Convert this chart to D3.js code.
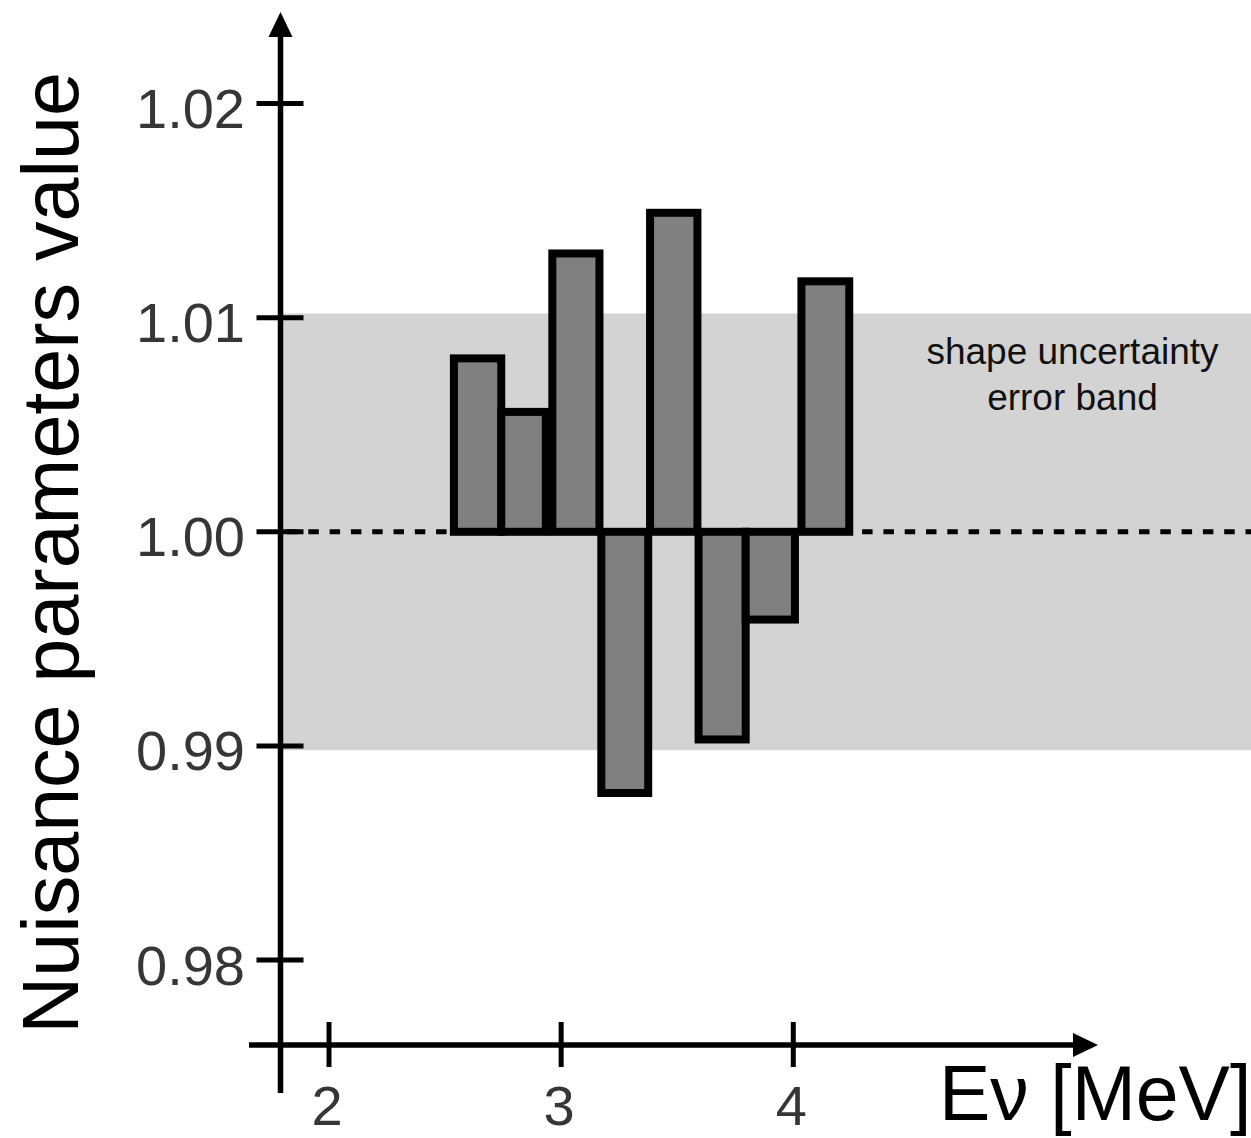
<!DOCTYPE html>
<html>
<head>
<meta charset="utf-8">
<script src="https://cdn.jsdelivr.net/npm/d3@7"></script>
<style>
    html, body { margin: 0; padding: 0; background: #fff; }
    svg { display: block; font-family: 'Liberation Sans', Arial, Helvetica, sans-serif; }
</style>
</head>
<body>
<div id="chart"></div>
<script>
// bins in E_nu [MeV] and fitted nuisance parameter per bin
let binLow = [2.538, 2.742, 2.962, 3.173, 3.383, 3.592, 3.795, 4.035];
let binHigh = [2.742, 2.934, 3.165, 3.375, 3.587, 3.795, 4.007, 4.241];
let nuisance = [1.0081, 1.0056, 1.0130, 0.9878, 1.0149, 0.9903, 0.9959, 1.0117];

let yTicks = [0.98, 0.99, 1.00, 1.01, 1.02];
let yTickLabels = ['0.98', '0.99', '1.00', '1.01', '1.02'];
let xTicks = [2, 3, 4];
let xTickLabels = ['2', '3', '4'];

let bandLow = 0.9898,
    bandHigh = 1.0102,
    refValue = 1.00;

let bandText = ['shape uncertainty', 'error band'];

let width = 1251,
    height = 1138;

// axis geometry (pixels)
let axisX = 280.5,
    axisY = 1045,
    axisLeft = 249,
    axisRight = 1098,
    axisTop = 12,
    axisBottom = 1093,
    arrowLen = 25,
    arrowHalf = 12;

let svg = d3.select('#chart').append('svg')
    .attr('width', width)
    .attr('height', height);

let xScale = d3.scaleLinear()
    .domain([2, 4])
    .range([329, 793.3]);

let yScale = d3.scaleLinear()
    .domain([0.98, 1.01])
    .range([960, 317.7]);

let bins = nuisance.map((v, i) => ({lo: binLow[i], hi: binHigh[i], v: v}));

// error band
svg.append('rect')
    .attr('x', axisX + 2.5)
    .attr('y', yScale(bandHigh))
    .attr('width', width - axisX - 2.5)
    .attr('height', yScale(bandLow) - yScale(bandHigh))
    .attr('fill', '#d3d3d3');

svg.append('g')
    .attr('font-size', 37)
    .attr('fill', '#111')
    .attr('text-anchor', 'middle')
    .selectAll('text')
    .data(bandText)
    .join('text')
    .attr('x', 1072.5)
    .attr('y', (d, i) => 364 + i * 46)
    .text(d => d);

// reference line at 1
svg.append('line')
    .attr('x1', axisX + 2.5)
    .attr('x2', width)
    .attr('y1', yScale(refValue))
    .attr('y2', yScale(refValue))
    .attr('stroke', '#000')
    .attr('stroke-width', 5)
    .attr('stroke-dasharray', '10.5 10.8')
    .attr('stroke-dashoffset', 17.3);

// bars
svg.append('g')
    .selectAll('rect')
    .data(bins)
    .join('rect')
    .attr('x', d => xScale(d.lo))
    .attr('width', d => xScale(d.hi) - xScale(d.lo))
    .attr('y', d => yScale(Math.max(d.v, refValue)))
    .attr('height', d => Math.abs(yScale(d.v) - yScale(refValue)))
    .attr('fill', '#808080')
    .attr('stroke', '#000')
    .attr('stroke-width', 8);

// y axis
let yAxis_g = svg.append('g');

yAxis_g.append('line')
    .attr('x1', axisX).attr('x2', axisX)
    .attr('y1', axisTop + arrowLen - 2).attr('y2', axisBottom)
    .attr('stroke', '#000')
    .attr('stroke-width', 5.5);

yAxis_g.append('path')
    .attr('d', `M${axisX},${axisTop} L${axisX - arrowHalf},${axisTop + arrowLen} L${axisX + arrowHalf},${axisTop + arrowLen} Z`)
    .attr('fill', '#000');

yAxis_g.selectAll('.ytick')
    .data(yTicks)
    .join('line')
    .attr('class', 'ytick')
    .attr('x1', axisX - 24).attr('x2', axisX + 23)
    .attr('y1', d => yScale(d)).attr('y2', d => yScale(d))
    .attr('stroke', '#000')
    .attr('stroke-width', 5);

yAxis_g.selectAll('.ylabel')
    .data(yTicks)
    .join('text')
    .attr('class', 'ylabel')
    .attr('x', 245)
    .attr('y', d => yScale(d) + 24.5)
    .attr('text-anchor', 'end')
    .attr('font-size', 56)
    .attr('fill', '#363636')
    .text((d, i) => yTickLabels[i]);

yAxis_g.append('text')
    .attr('transform', 'translate(78, 553) rotate(-90)')
    .attr('text-anchor', 'middle')
    .attr('font-size', 79)
    .attr('fill', '#000')
    .text('Nuisance parameters value');

// x axis
let xAxis_g = svg.append('g');

xAxis_g.append('line')
    .attr('x1', axisLeft).attr('x2', axisRight - arrowLen + 2)
    .attr('y1', axisY).attr('y2', axisY)
    .attr('stroke', '#000')
    .attr('stroke-width', 5.5);

xAxis_g.append('path')
    .attr('d', `M${axisRight},${axisY} L${axisRight - arrowLen},${axisY - arrowHalf} L${axisRight - arrowLen},${axisY + arrowHalf} Z`)
    .attr('fill', '#000');

xAxis_g.selectAll('.xtick')
    .data(xTicks)
    .join('line')
    .attr('class', 'xtick')
    .attr('x1', d => xScale(d)).attr('x2', d => xScale(d))
    .attr('y1', axisY - 23).attr('y2', axisY + 22)
    .attr('stroke', '#000')
    .attr('stroke-width', 5);

xAxis_g.selectAll('.xlabel')
    .data(xTicks)
    .join('text')
    .attr('class', 'xlabel')
    .attr('x', d => xScale(d) - 2)
    .attr('y', 1125)
    .attr('text-anchor', 'middle')
    .attr('font-size', 56)
    .attr('fill', '#363636')
    .text((d, i) => xTickLabels[i]);

xAxis_g.append('text')
    .attr('x', 939)
    .attr('y', 1120)
    .attr('font-size', 77)
    .attr('fill', '#000')
    .text('Eν [MeV]');
</script>
</body>
</html>
